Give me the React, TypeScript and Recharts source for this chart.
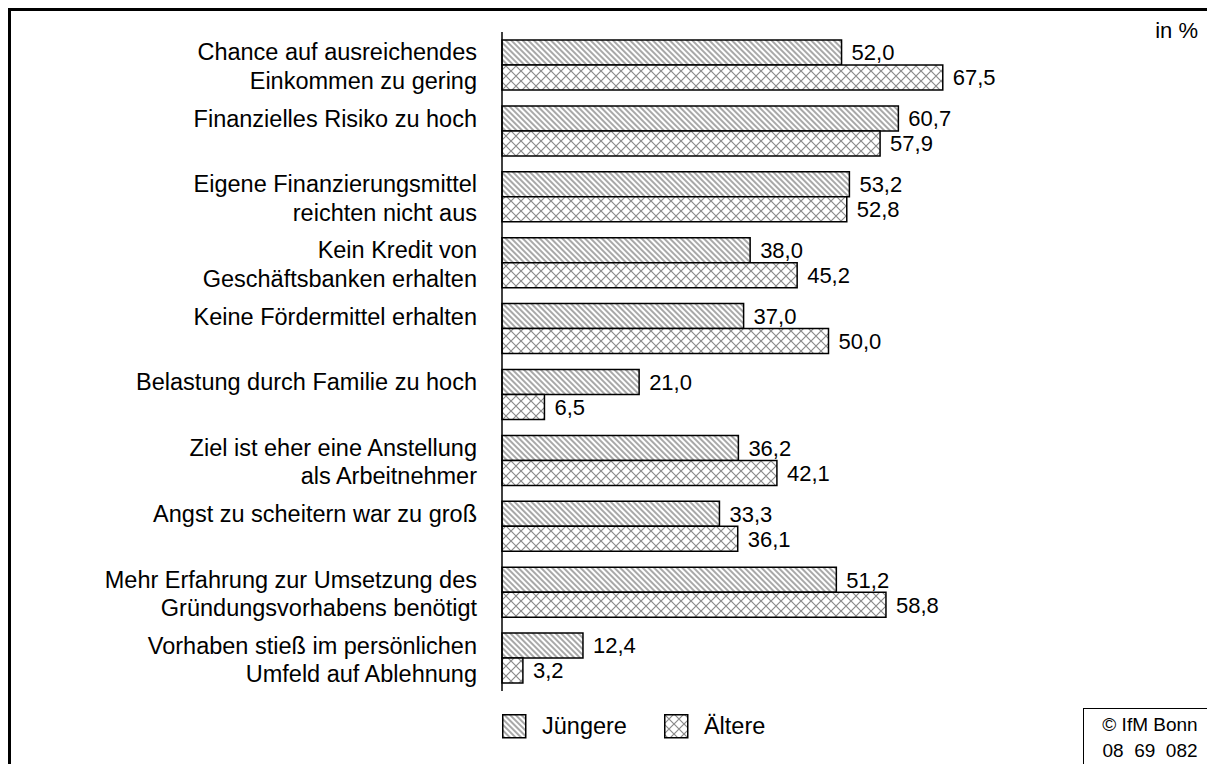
import React from 'react';
import { BarChart, Bar, XAxis, YAxis, LabelList } from 'recharts';

const categories = [
  'Chance auf ausreichendes|Einkommen zu gering',
  'Finanzielles Risiko zu hoch',
  'Eigene Finanzierungsmittel|reichten nicht aus',
  'Kein Kredit von|Geschäftsbanken erhalten',
  'Keine Fördermittel erhalten',
  'Belastung durch Familie zu hoch',
  'Ziel ist eher eine Anstellung|als Arbeitnehmer',
  'Angst zu scheitern war zu groß',
  'Mehr Erfahrung zur Umsetzung des|Gründungsvorhabens benötigt',
  'Vorhaben stieß im persönlichen|Umfeld auf Ablehnung',
];
const juengere = [52.0, 60.7, 53.2, 38.0, 37.0, 21.0, 36.2, 33.3, 51.2, 12.4];
const aeltere = [67.5, 57.9, 52.8, 45.2, 50.0, 6.5, 42.1, 36.1, 58.8, 3.2];

const data = categories.map((c, i) => ({ name: c, Jüngere: juengere[i], Ältere: aeltere[i] }));

const FONT = '"Liberation Sans", Arial, sans-serif';
const fmt = (v: any) => Number(v).toFixed(1).replace('.', ',');

const CategoryTick = ({ x, y, payload }: any) => {
  const lines = String(payload.value).split('|');
  const tx = x - 25;
  if (lines.length === 1) {
    return (
      <text x={tx} y={y - 4} textAnchor="end" fontSize={23.5} fontFamily={FONT} fill="#000">
        {lines[0]}
      </text>
    );
  }
  return (
    <text textAnchor="end" fontSize={23.5} fontFamily={FONT} fill="#000">
      <tspan x={tx} y={y - 4.5}>{lines[0]}</tspan>
      <tspan x={tx} y={y + 24}>{lines[1]}</tspan>
    </text>
  );
};

const Patterns = ({ prefix }: { prefix: string }) => (
  <defs>
    <pattern id={prefix + 'stripe'} patternUnits="userSpaceOnUse" width={4} height={4} patternTransform="rotate(-45)">
      <rect width={4} height={4} fill="#fff" />
      <line x1={1} y1={0} x2={1} y2={4} stroke="#7a7a7a" strokeWidth={1.3} />
    </pattern>
    <pattern id={prefix + 'cross'} patternUnits="userSpaceOnUse" width={10} height={10}>
      <rect width={10} height={10} fill="#fff" />
      <path d="M0,0 L10,10 M10,0 L0,10" stroke="#8a8a8a" strokeWidth={1.2} />
    </pattern>
  </defs>
);

// legend drawn as plain html so it does not shrink the plot area
const LegendBox = () => (
  <div
    style={{
      position: 'absolute',
      left: 491,
      top: 702,
      display: 'flex',
      alignItems: 'center',
      fontFamily: FONT,
      fontSize: 23.5,
      color: '#000',
    }}
  >
    <svg width={25} height={25} style={{ marginRight: 15 }}>
      <Patterns prefix="lg" />
      <rect x={0.75} y={0.75} width={23} height={23} fill="url(#lgstripe)" stroke="#000" strokeWidth={1.5} />
    </svg>
    <span style={{ marginRight: 37 }}>Jüngere</span>
    <svg width={25} height={25} style={{ marginRight: 15 }}>
      <rect x={0.75} y={0.75} width={23} height={23} fill="url(#lgcross)" stroke="#000" strokeWidth={1.5} />
    </svg>
    <span>Ältere</span>
  </div>
);

export default function App() {
  return (
    <div
      style={{
        position: 'relative',
        width: 1207,
        height: 756,
        borderTop: '3px solid #000',
        borderLeft: '3px solid #000',
        boxSizing: 'border-box',
        background: '#fff',
        overflow: 'hidden',
      }}
    >
      <div style={{ position: 'absolute', left: 0, top: 0 }}>
        <BarChart
          width={1204}
          height={753}
          data={data}
          layout="vertical"
          margin={{ top: 21, right: 60, bottom: 73, left: 0 }}
          barCategoryGap={8}
          barGap={0}
        >
          <Patterns prefix="ch" />
          <XAxis type="number" domain={[0, 100]} hide />
          <YAxis
            type="category"
            dataKey="name"
            width={491}
            tickLine={false}
            tickSize={0}
            tickMargin={0}
            axisLine={{ stroke: '#000', strokeWidth: 1.5 }}
            tick={<CategoryTick />}
            interval={0}
          />
          <Bar dataKey="Jüngere" fill="url(#chstripe)" stroke="#000" strokeWidth={1.5} isAnimationActive={false}>
            <LabelList dataKey="Jüngere" position="right" offset={10} formatter={fmt} fontSize={22} fontFamily={FONT} fill="#000" />
          </Bar>
          <Bar dataKey="Ältere" fill="url(#chcross)" stroke="#000" strokeWidth={1.5} isAnimationActive={false}>
            <LabelList dataKey="Ältere" position="right" offset={10} formatter={fmt} fontSize={22} fontFamily={FONT} fill="#000" />
          </Bar>
        </BarChart>
      </div>
      <LegendBox />
      <div style={{ position: 'absolute', right: 17, top: 7, fontFamily: FONT, fontSize: 22 }}>in %</div>
      <div
        style={{
          position: 'absolute',
          left: 1072,
          top: 697,
          width: 133,
          height: 80,
          borderLeft: '1.5px solid #000',
          borderTop: '1.5px solid #000',
          fontFamily: FONT,
          fontSize: 19,
          lineHeight: '26px',
          paddingTop: 3,
          textAlign: 'center',
          boxSizing: 'border-box',
        }}
      >
        <div>© IfM Bonn</div>
        <div>08&nbsp;&nbsp;69&nbsp;&nbsp;082</div>
      </div>
    </div>
  );
}
